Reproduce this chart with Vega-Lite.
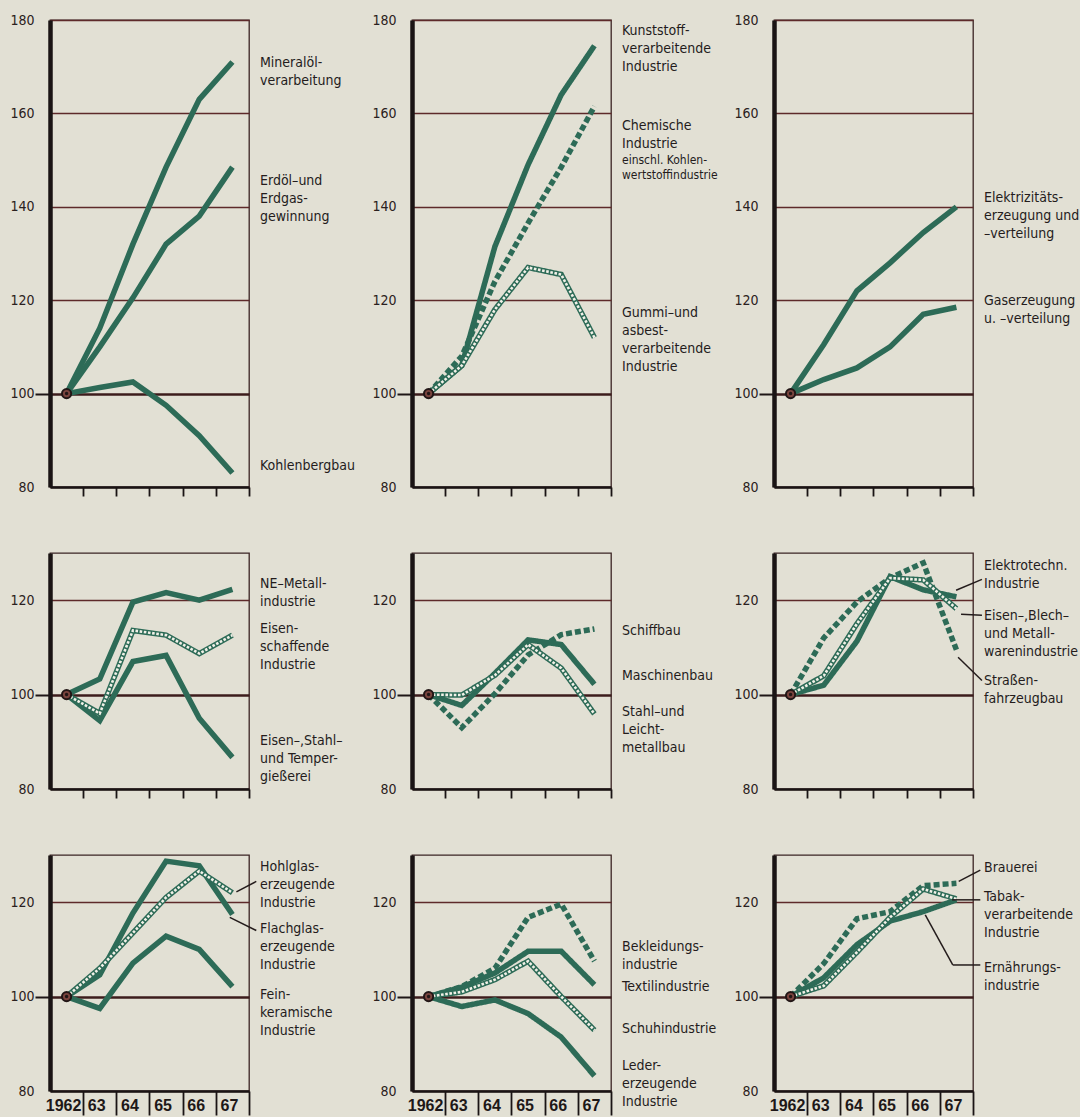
{
  "$schema": "https://vega.github.io/schema/vega-lite/v6.json",
  "background": "#e2e0d4",
  "padding": {"left": 9, "top": 12, "right": 0, "bottom": 0},
  "datasets": {
    "series": [
      {"panel":1,"series":"Mineralölverarbeitung","year":1962,"value":100},
      {"panel":1,"series":"Mineralölverarbeitung","year":1963,"value":114},
      {"panel":1,"series":"Mineralölverarbeitung","year":1964,"value":132},
      {"panel":1,"series":"Mineralölverarbeitung","year":1965,"value":148.5},
      {"panel":1,"series":"Mineralölverarbeitung","year":1966,"value":163},
      {"panel":1,"series":"Mineralölverarbeitung","year":1967,"value":171},
      {"panel":1,"series":"Erdöl- und Erdgasgewinnung","year":1962,"value":100},
      {"panel":1,"series":"Erdöl- und Erdgasgewinnung","year":1963,"value":110},
      {"panel":1,"series":"Erdöl- und Erdgasgewinnung","year":1964,"value":120.5},
      {"panel":1,"series":"Erdöl- und Erdgasgewinnung","year":1965,"value":132},
      {"panel":1,"series":"Erdöl- und Erdgasgewinnung","year":1966,"value":138},
      {"panel":1,"series":"Erdöl- und Erdgasgewinnung","year":1967,"value":148.5},
      {"panel":1,"series":"Kohlenbergbau","year":1962,"value":100},
      {"panel":1,"series":"Kohlenbergbau","year":1963,"value":101.3},
      {"panel":1,"series":"Kohlenbergbau","year":1964,"value":102.5},
      {"panel":1,"series":"Kohlenbergbau","year":1965,"value":97.5},
      {"panel":1,"series":"Kohlenbergbau","year":1966,"value":91},
      {"panel":1,"series":"Kohlenbergbau","year":1967,"value":83},
      {"panel":2,"series":"Kunststoffverarbeitende Industrie","year":1962,"value":100},
      {"panel":2,"series":"Kunststoffverarbeitende Industrie","year":1963,"value":106},
      {"panel":2,"series":"Kunststoffverarbeitende Industrie","year":1964,"value":131.5},
      {"panel":2,"series":"Kunststoffverarbeitende Industrie","year":1965,"value":149},
      {"panel":2,"series":"Kunststoffverarbeitende Industrie","year":1966,"value":164},
      {"panel":2,"series":"Kunststoffverarbeitende Industrie","year":1967,"value":174.5},
      {"panel":2,"series":"Chemische Industrie","year":1962,"value":100},
      {"panel":2,"series":"Chemische Industrie","year":1963,"value":108},
      {"panel":2,"series":"Chemische Industrie","year":1964,"value":124},
      {"panel":2,"series":"Chemische Industrie","year":1965,"value":136.5},
      {"panel":2,"series":"Chemische Industrie","year":1966,"value":148.5},
      {"panel":2,"series":"Chemische Industrie","year":1967,"value":161.5},
      {"panel":2,"series":"Gummi- und asbestverarbeitende Industrie","year":1962,"value":100},
      {"panel":2,"series":"Gummi- und asbestverarbeitende Industrie","year":1963,"value":106},
      {"panel":2,"series":"Gummi- und asbestverarbeitende Industrie","year":1964,"value":118},
      {"panel":2,"series":"Gummi- und asbestverarbeitende Industrie","year":1965,"value":127},
      {"panel":2,"series":"Gummi- und asbestverarbeitende Industrie","year":1966,"value":125.5},
      {"panel":2,"series":"Gummi- und asbestverarbeitende Industrie","year":1967,"value":112},
      {"panel":3,"series":"Elektrizitätserzeugung und -verteilung","year":1962,"value":100},
      {"panel":3,"series":"Elektrizitätserzeugung und -verteilung","year":1963,"value":110.5},
      {"panel":3,"series":"Elektrizitätserzeugung und -verteilung","year":1964,"value":122},
      {"panel":3,"series":"Elektrizitätserzeugung und -verteilung","year":1965,"value":128},
      {"panel":3,"series":"Elektrizitätserzeugung und -verteilung","year":1966,"value":134.5},
      {"panel":3,"series":"Elektrizitätserzeugung und -verteilung","year":1967,"value":140},
      {"panel":3,"series":"Gaserzeugung u. -verteilung","year":1962,"value":100},
      {"panel":3,"series":"Gaserzeugung u. -verteilung","year":1963,"value":103},
      {"panel":3,"series":"Gaserzeugung u. -verteilung","year":1964,"value":105.5},
      {"panel":3,"series":"Gaserzeugung u. -verteilung","year":1965,"value":110},
      {"panel":3,"series":"Gaserzeugung u. -verteilung","year":1966,"value":117},
      {"panel":3,"series":"Gaserzeugung u. -verteilung","year":1967,"value":118.5},
      {"panel":4,"series":"NE-Metallindustrie","year":1962,"value":100},
      {"panel":4,"series":"NE-Metallindustrie","year":1963,"value":103.3},
      {"panel":4,"series":"NE-Metallindustrie","year":1964,"value":119.6},
      {"panel":4,"series":"NE-Metallindustrie","year":1965,"value":121.6},
      {"panel":4,"series":"NE-Metallindustrie","year":1966,"value":120},
      {"panel":4,"series":"NE-Metallindustrie","year":1967,"value":122.3},
      {"panel":4,"series":"Eisenschaffende Industrie","year":1962,"value":100},
      {"panel":4,"series":"Eisenschaffende Industrie","year":1963,"value":96},
      {"panel":4,"series":"Eisenschaffende Industrie","year":1964,"value":113.6},
      {"panel":4,"series":"Eisenschaffende Industrie","year":1965,"value":112.6},
      {"panel":4,"series":"Eisenschaffende Industrie","year":1966,"value":108.7},
      {"panel":4,"series":"Eisenschaffende Industrie","year":1967,"value":112.6},
      {"panel":4,"series":"Eisen-, Stahl- und Tempergießerei","year":1962,"value":100},
      {"panel":4,"series":"Eisen-, Stahl- und Tempergießerei","year":1963,"value":94.5},
      {"panel":4,"series":"Eisen-, Stahl- und Tempergießerei","year":1964,"value":107},
      {"panel":4,"series":"Eisen-, Stahl- und Tempergießerei","year":1965,"value":108.3},
      {"panel":4,"series":"Eisen-, Stahl- und Tempergießerei","year":1966,"value":95},
      {"panel":4,"series":"Eisen-, Stahl- und Tempergießerei","year":1967,"value":86.7},
      {"panel":5,"series":"Schiffbau","year":1962,"value":100},
      {"panel":5,"series":"Schiffbau","year":1963,"value":93},
      {"panel":5,"series":"Schiffbau","year":1964,"value":100.2},
      {"panel":5,"series":"Schiffbau","year":1965,"value":108.4},
      {"panel":5,"series":"Schiffbau","year":1966,"value":112.7},
      {"panel":5,"series":"Schiffbau","year":1967,"value":113.9},
      {"panel":5,"series":"Maschinenbau","year":1962,"value":100},
      {"panel":5,"series":"Maschinenbau","year":1963,"value":97.7},
      {"panel":5,"series":"Maschinenbau","year":1964,"value":104.5},
      {"panel":5,"series":"Maschinenbau","year":1965,"value":111.6},
      {"panel":5,"series":"Maschinenbau","year":1966,"value":110.6},
      {"panel":5,"series":"Maschinenbau","year":1967,"value":102.2},
      {"panel":5,"series":"Stahl- und Leichtmetallbau","year":1962,"value":100},
      {"panel":5,"series":"Stahl- und Leichtmetallbau","year":1963,"value":99.9},
      {"panel":5,"series":"Stahl- und Leichtmetallbau","year":1964,"value":104.1},
      {"panel":5,"series":"Stahl- und Leichtmetallbau","year":1965,"value":110.6},
      {"panel":5,"series":"Stahl- und Leichtmetallbau","year":1966,"value":105.6},
      {"panel":5,"series":"Stahl- und Leichtmetallbau","year":1967,"value":95.9},
      {"panel":6,"series":"Elektrotechn. Industrie","year":1962,"value":100},
      {"panel":6,"series":"Elektrotechn. Industrie","year":1963,"value":102},
      {"panel":6,"series":"Elektrotechn. Industrie","year":1964,"value":111.3},
      {"panel":6,"series":"Elektrotechn. Industrie","year":1965,"value":125},
      {"panel":6,"series":"Elektrotechn. Industrie","year":1966,"value":122.2},
      {"panel":6,"series":"Elektrotechn. Industrie","year":1967,"value":120.7},
      {"panel":6,"series":"Eisen-, Blech- und Metallwarenindustrie","year":1962,"value":100},
      {"panel":6,"series":"Eisen-, Blech- und Metallwarenindustrie","year":1963,"value":104},
      {"panel":6,"series":"Eisen-, Blech- und Metallwarenindustrie","year":1964,"value":115},
      {"panel":6,"series":"Eisen-, Blech- und Metallwarenindustrie","year":1965,"value":124.7},
      {"panel":6,"series":"Eisen-, Blech- und Metallwarenindustrie","year":1966,"value":124.3},
      {"panel":6,"series":"Eisen-, Blech- und Metallwarenindustrie","year":1967,"value":118.2},
      {"panel":6,"series":"Straßenfahrzeugbau","year":1962,"value":100},
      {"panel":6,"series":"Straßenfahrzeugbau","year":1963,"value":112},
      {"panel":6,"series":"Straßenfahrzeugbau","year":1964,"value":119.6},
      {"panel":6,"series":"Straßenfahrzeugbau","year":1965,"value":124.7},
      {"panel":6,"series":"Straßenfahrzeugbau","year":1966,"value":127.9},
      {"panel":6,"series":"Straßenfahrzeugbau","year":1967,"value":109.5},
      {"panel":7,"series":"Hohlglaserzeugende Industrie","year":1962,"value":100},
      {"panel":7,"series":"Hohlglaserzeugende Industrie","year":1963,"value":106},
      {"panel":7,"series":"Hohlglaserzeugende Industrie","year":1964,"value":113.5},
      {"panel":7,"series":"Hohlglaserzeugende Industrie","year":1965,"value":121},
      {"panel":7,"series":"Hohlglaserzeugende Industrie","year":1966,"value":126.6},
      {"panel":7,"series":"Hohlglaserzeugende Industrie","year":1967,"value":122},
      {"panel":7,"series":"Flachglaserzeugende Industrie","year":1962,"value":100},
      {"panel":7,"series":"Flachglaserzeugende Industrie","year":1963,"value":104.6},
      {"panel":7,"series":"Flachglaserzeugende Industrie","year":1964,"value":117.7},
      {"panel":7,"series":"Flachglaserzeugende Industrie","year":1965,"value":128.7},
      {"panel":7,"series":"Flachglaserzeugende Industrie","year":1966,"value":127.7},
      {"panel":7,"series":"Flachglaserzeugende Industrie","year":1967,"value":117.4},
      {"panel":7,"series":"Feinkeramische Industrie","year":1962,"value":100},
      {"panel":7,"series":"Feinkeramische Industrie","year":1963,"value":97.5},
      {"panel":7,"series":"Feinkeramische Industrie","year":1964,"value":107.1},
      {"panel":7,"series":"Feinkeramische Industrie","year":1965,"value":112.8},
      {"panel":7,"series":"Feinkeramische Industrie","year":1966,"value":110},
      {"panel":7,"series":"Feinkeramische Industrie","year":1967,"value":102.1},
      {"panel":8,"series":"Bekleidungsindustrie","year":1962,"value":100},
      {"panel":8,"series":"Bekleidungsindustrie","year":1963,"value":102.1},
      {"panel":8,"series":"Bekleidungsindustrie","year":1964,"value":106},
      {"panel":8,"series":"Bekleidungsindustrie","year":1965,"value":116.8},
      {"panel":8,"series":"Bekleidungsindustrie","year":1966,"value":119.6},
      {"panel":8,"series":"Bekleidungsindustrie","year":1967,"value":107.5},
      {"panel":8,"series":"Textilindustrie","year":1962,"value":100},
      {"panel":8,"series":"Textilindustrie","year":1963,"value":102},
      {"panel":8,"series":"Textilindustrie","year":1964,"value":105},
      {"panel":8,"series":"Textilindustrie","year":1965,"value":109.6},
      {"panel":8,"series":"Textilindustrie","year":1966,"value":109.6},
      {"panel":8,"series":"Textilindustrie","year":1967,"value":102.5},
      {"panel":8,"series":"Schuhindustrie","year":1962,"value":100},
      {"panel":8,"series":"Schuhindustrie","year":1963,"value":101},
      {"panel":8,"series":"Schuhindustrie","year":1964,"value":103.6},
      {"panel":8,"series":"Schuhindustrie","year":1965,"value":107.5},
      {"panel":8,"series":"Schuhindustrie","year":1966,"value":100},
      {"panel":8,"series":"Schuhindustrie","year":1967,"value":92.9},
      {"panel":8,"series":"Ledererzeugende Industrie","year":1962,"value":100},
      {"panel":8,"series":"Ledererzeugende Industrie","year":1963,"value":97.9},
      {"panel":8,"series":"Ledererzeugende Industrie","year":1964,"value":99.3},
      {"panel":8,"series":"Ledererzeugende Industrie","year":1965,"value":96.4},
      {"panel":8,"series":"Ledererzeugende Industrie","year":1966,"value":91.4},
      {"panel":8,"series":"Ledererzeugende Industrie","year":1967,"value":83.2},
      {"panel":9,"series":"Brauerei","year":1962,"value":100},
      {"panel":9,"series":"Brauerei","year":1963,"value":107},
      {"panel":9,"series":"Brauerei","year":1964,"value":116.5},
      {"panel":9,"series":"Brauerei","year":1965,"value":118},
      {"panel":9,"series":"Brauerei","year":1966,"value":123.5},
      {"panel":9,"series":"Brauerei","year":1967,"value":124},
      {"panel":9,"series":"Tabakverarbeitende Industrie","year":1962,"value":100},
      {"panel":9,"series":"Tabakverarbeitende Industrie","year":1963,"value":102.3},
      {"panel":9,"series":"Tabakverarbeitende Industrie","year":1964,"value":109.4},
      {"panel":9,"series":"Tabakverarbeitende Industrie","year":1965,"value":116.8},
      {"panel":9,"series":"Tabakverarbeitende Industrie","year":1966,"value":122.8},
      {"panel":9,"series":"Tabakverarbeitende Industrie","year":1967,"value":120.7},
      {"panel":9,"series":"Ernährungsindustrie","year":1962,"value":100},
      {"panel":9,"series":"Ernährungsindustrie","year":1963,"value":104},
      {"panel":9,"series":"Ernährungsindustrie","year":1964,"value":111},
      {"panel":9,"series":"Ernährungsindustrie","year":1965,"value":116},
      {"panel":9,"series":"Ernährungsindustrie","year":1966,"value":118},
      {"panel":9,"series":"Ernährungsindustrie","year":1967,"value":120.5}
    ],
    "years": [
      {"year":1962,"label":"1962"},
      {"year":1963,"label":"63"},
      {"year":1964,"label":"64"},
      {"year":1965,"label":"65"},
      {"year":1966,"label":"66"},
      {"year":1967,"label":"67"}
    ],
    "labels": [
      {"panel":1,"text":"Mineralöl-\nverarbeitung","value":172.3},
      {"panel":1,"text":"Erdöl–und\nErdgas-\ngewinnung","value":147.0},
      {"panel":1,"text":"Kohlenbergbau","value":86.0},
      {"panel":2,"text":"Kunststoff-\nverarbeitende\nIndustrie","value":179.1},
      {"panel":2,"text":"Chemische\nIndustrie","value":158.8},
      {"panel":2,"text":"Gummi–und\nasbest-\nverarbeitende\nIndustrie","value":118.7},
      {"panel":3,"text":"Elektrizitäts-\nerzeugung und\n–verteilung","value":143.4},
      {"panel":3,"text":"Gaserzeugung\nu. –verteilung","value":121.3},
      {"panel":4,"text":"NE–Metall-\nindustrie","value":124.9},
      {"panel":4,"text":"Eisen-\nschaffende\nIndustrie","value":115.3},
      {"panel":4,"text":"Eisen–,Stahl–\nund Temper-\ngießerei","value":91.6},
      {"panel":5,"text":"Schiffbau","value":115.0},
      {"panel":5,"text":"Maschinenbau","value":105.5},
      {"panel":5,"text":"Stahl–und\nLeicht-\nmetallbau","value":97.9},
      {"panel":6,"text":"Elektrotechn.\nIndustrie","value":128.7},
      {"panel":6,"text":"Eisen–,Blech–\nund Metall-\nwarenindustrie","value":118.1},
      {"panel":6,"text":"Straßen-\nfahrzeugbau","value":104.3},
      {"panel":7,"text":"Hohlglas-\nerzeugende\nIndustrie","value":128.9},
      {"panel":7,"text":"Flachglas-\nerzeugende\nIndustrie","value":115.7},
      {"panel":7,"text":"Fein-\nkeramische\nIndustrie","value":101.8},
      {"panel":8,"text":"Bekleidungs-\nindustrie","value":112.0},
      {"panel":8,"text":"Textilindustrie","value":103.5},
      {"panel":8,"text":"Schuhindustrie","value":94.6},
      {"panel":8,"text":"Leder-\nerzeugende\nIndustrie","value":86.8},
      {"panel":9,"text":"Brauerei","value":128.8},
      {"panel":9,"text":"Tabak-\nverarbeitende\nIndustrie","value":122.5},
      {"panel":9,"text":"Ernährungs-\nindustrie","value":107.6}
    ],
    "notes": [
      {"panel":2,"text":"einschl. Kohlen-\nwertstoffindustrie","value":151.1}
    ],
    "leaders": [
      {"panel":6,"x":1966.99,"y":122.1,"x2":1967.77,"y2":124.4},
      {"panel":6,"x":1967.14,"y":117.0,"x2":1967.77,"y2":116.8},
      {"panel":6,"x":1967.05,"y":107.9,"x2":1967.77,"y2":103.0},
      {"panel":7,"x":1967.12,"y":122.2,"x2":1967.72,"y2":124.4},
      {"panel":7,"x":1966.92,"y":116.8,"x2":1967.72,"y2":114.0},
      {"panel":9,"x":1967.07,"y":124.4,"x2":1967.72,"y2":126.8},
      {"panel":9,"x":1966.87,"y":120.5,"x2":1967.72,"y2":120.5},
      {"panel":9,"x":1966.06,"y":117.3,"x2":1966.89,"y2":106.7},
      {"panel":9,"x":1966.89,"y":106.7,"x2":1967.72,"y2":106.7}
    ]
  },
  "columns": 3,
  "align": "each",
  "bounds": "flush",
  "spacing": {"row": 66, "column": 163},
  "concat": [
    {
      "width": 199, "height": 467,
      "layer": [
        {"data": {"name": "series"}, "transform": [{"filter": "datum.panel == 1"}],
         "mark": {"type": "line", "strokeWidth": 5.5, "color": "#2d6b57"},
         "encoding": {
           "x": {"field": "year", "type": "quantitative", "scale": {"domain": [1961.5, 1967.5], "nice": false, "zero": false},
                 "axis": {"title": null, "values": [1962,1963,1964,1965,1966,1967], "tickCount": 20, "tickOffset": 16.58, "labels": false, "grid": false, "tickSize": 9, "tickWidth": 1.8, "tickColor": "#1a1414", "domainColor": "#1a1414", "domainWidth": 2.5}},
           "y": {"field": "value", "type": "quantitative", "scale": {"domain": [80, 180], "nice": false, "zero": false},
                 "axis": {"title": null, "values": [80,100,120,140,160,180], "tickCount": 20, "grid": true,
                          "gridColor": {"condition": {"test": "datum.value == 100", "value": "#3c1c1c"}, "value": "#5e2a2a"},
                          "gridWidth": {"condition": {"test": "datum.value == 100", "value": 2.6}, "value": 1.4},
                          "tickColor": {"condition": {"test": "datum.value == 100", "value": "#1e1616"}, "value": "transparent"},
                          "tickSize": 15, "tickWidth": 2, "domainColor": "#1a1414", "domainWidth": 4.5,
                          "labelFont": "DejaVu Sans Condensed", "labelFontSize": 14, "labelColor": "#2a2020", "labelPadding": 1, "labelFlush": false, "labelOverlap": false}},
           "detail": {"field": "series", "type": "nominal"}
         }},
        {"data": {"values": [{}]}, "mark": {"type": "circle", "size": 85, "fill": "#7a443e", "stroke": "#221616", "strokeWidth": 2, "opacity": 1},
         "encoding": {"x": {"datum": 1962, "type": "quantitative"}, "y": {"datum": 100, "type": "quantitative"}}},
        {"data": {"values": [{}]}, "mark": {"type": "circle", "size": 12, "fill": "#221616", "opacity": 1},
         "encoding": {"x": {"datum": 1962, "type": "quantitative"}, "y": {"datum": 100, "type": "quantitative"}}},
        {"data": {"name": "labels"}, "transform": [{"filter": "datum.panel == 1"}],
         "mark": {"type": "text", "align": "left", "baseline": "top", "dx": 11, "font": "DejaVu Sans Condensed", "fontSize": 14, "lineHeight": 18, "lineBreak": "\n", "color": "#241c1c"},
         "encoding": {"x": {"datum": 1967.5, "type": "quantitative"}, "y": {"field": "value", "type": "quantitative"}, "text": {"field": "text"}}}
      ]
    },
    {
      "width": 199, "height": 467,
      "layer": [
        {"data": {"name": "series"}, "transform": [{"filter": "datum.panel == 2"}],
         "mark": {"type": "line", "strokeWidth": 5.5, "color": "#2d6b57"},
         "encoding": {
           "x": {"field": "year", "type": "quantitative", "scale": {"domain": [1961.5, 1967.5], "nice": false, "zero": false},
                 "axis": {"title": null, "values": [1962,1963,1964,1965,1966,1967], "tickCount": 20, "tickOffset": 16.58, "labels": false, "grid": false, "tickSize": 9, "tickWidth": 1.8, "tickColor": "#1a1414", "domainColor": "#1a1414", "domainWidth": 2.5}},
           "y": {"field": "value", "type": "quantitative", "scale": {"domain": [80, 180], "nice": false, "zero": false},
                 "axis": {"title": null, "values": [80,100,120,140,160,180], "tickCount": 20, "grid": true,
                          "gridColor": {"condition": {"test": "datum.value == 100", "value": "#3c1c1c"}, "value": "#5e2a2a"},
                          "gridWidth": {"condition": {"test": "datum.value == 100", "value": 2.6}, "value": 1.4},
                          "tickColor": {"condition": {"test": "datum.value == 100", "value": "#1e1616"}, "value": "transparent"},
                          "tickSize": 15, "tickWidth": 2, "domainColor": "#1a1414", "domainWidth": 4.5,
                          "labelFont": "DejaVu Sans Condensed", "labelFontSize": 14, "labelColor": "#2a2020", "labelPadding": 1, "labelFlush": false, "labelOverlap": false}},
           "detail": {"field": "series", "type": "nominal"},
           "strokeDash": {"condition": {"test": "indexof(['Chemische Industrie','Schiffbau','Straßenfahrzeugbau','Bekleidungsindustrie','Brauerei'], datum.series) >= 0", "value": [6, 3]}, "value": [1, 0]}
         }},
        {"data": {"name": "series"}, "transform": [{"filter": "datum.panel == 2"}, {"filter": {"field": "series", "oneOf": ["Gummi- und asbestverarbeitende Industrie"]}}],
         "mark": {"type": "line", "strokeWidth": 2.6, "color": "#f2f1e8", "strokeDash": [2.6, 1.6]},
         "encoding": {"x": {"field": "year", "type": "quantitative"}, "y": {"field": "value", "type": "quantitative"}, "detail": {"field": "series", "type": "nominal"}}},
        {"data": {"values": [{}]}, "mark": {"type": "circle", "size": 85, "fill": "#7a443e", "stroke": "#221616", "strokeWidth": 2, "opacity": 1},
         "encoding": {"x": {"datum": 1962, "type": "quantitative"}, "y": {"datum": 100, "type": "quantitative"}}},
        {"data": {"values": [{}]}, "mark": {"type": "circle", "size": 12, "fill": "#221616", "opacity": 1},
         "encoding": {"x": {"datum": 1962, "type": "quantitative"}, "y": {"datum": 100, "type": "quantitative"}}},
        {"data": {"name": "labels"}, "transform": [{"filter": "datum.panel == 2"}],
         "mark": {"type": "text", "align": "left", "baseline": "top", "dx": 11, "font": "DejaVu Sans Condensed", "fontSize": 14, "lineHeight": 18, "lineBreak": "\n", "color": "#241c1c"},
         "encoding": {"x": {"datum": 1967.5, "type": "quantitative"}, "y": {"field": "value", "type": "quantitative"}, "text": {"field": "text"}}},
        {"data": {"name": "notes"}, "transform": [{"filter": "datum.panel == 2"}],
         "mark": {"type": "text", "align": "left", "baseline": "top", "dx": 11, "font": "DejaVu Sans Condensed", "fontSize": 12, "lineHeight": 15, "lineBreak": "\n", "color": "#241c1c"},
         "encoding": {"x": {"datum": 1967.5, "type": "quantitative"}, "y": {"field": "value", "type": "quantitative"}, "text": {"field": "text"}}}
      ]
    },
    {
      "width": 199, "height": 467,
      "layer": [
        {"data": {"name": "series"}, "transform": [{"filter": "datum.panel == 3"}],
         "mark": {"type": "line", "strokeWidth": 5.5, "color": "#2d6b57"},
         "encoding": {
           "x": {"field": "year", "type": "quantitative", "scale": {"domain": [1961.5, 1967.5], "nice": false, "zero": false},
                 "axis": {"title": null, "values": [1962,1963,1964,1965,1966,1967], "tickCount": 20, "tickOffset": 16.58, "labels": false, "grid": false, "tickSize": 9, "tickWidth": 1.8, "tickColor": "#1a1414", "domainColor": "#1a1414", "domainWidth": 2.5}},
           "y": {"field": "value", "type": "quantitative", "scale": {"domain": [80, 180], "nice": false, "zero": false},
                 "axis": {"title": null, "values": [80,100,120,140,160,180], "tickCount": 20, "grid": true,
                          "gridColor": {"condition": {"test": "datum.value == 100", "value": "#3c1c1c"}, "value": "#5e2a2a"},
                          "gridWidth": {"condition": {"test": "datum.value == 100", "value": 2.6}, "value": 1.4},
                          "tickColor": {"condition": {"test": "datum.value == 100", "value": "#1e1616"}, "value": "transparent"},
                          "tickSize": 15, "tickWidth": 2, "domainColor": "#1a1414", "domainWidth": 4.5,
                          "labelFont": "DejaVu Sans Condensed", "labelFontSize": 14, "labelColor": "#2a2020", "labelPadding": 1, "labelFlush": false, "labelOverlap": false}},
           "detail": {"field": "series", "type": "nominal"}
         }},
        {"data": {"values": [{}]}, "mark": {"type": "circle", "size": 85, "fill": "#7a443e", "stroke": "#221616", "strokeWidth": 2, "opacity": 1},
         "encoding": {"x": {"datum": 1962, "type": "quantitative"}, "y": {"datum": 100, "type": "quantitative"}}},
        {"data": {"values": [{}]}, "mark": {"type": "circle", "size": 12, "fill": "#221616", "opacity": 1},
         "encoding": {"x": {"datum": 1962, "type": "quantitative"}, "y": {"datum": 100, "type": "quantitative"}}},
        {"data": {"name": "labels"}, "transform": [{"filter": "datum.panel == 3"}],
         "mark": {"type": "text", "align": "left", "baseline": "top", "dx": 11, "font": "DejaVu Sans Condensed", "fontSize": 14, "lineHeight": 18, "lineBreak": "\n", "color": "#241c1c"},
         "encoding": {"x": {"datum": 1967.5, "type": "quantitative"}, "y": {"field": "value", "type": "quantitative"}, "text": {"field": "text"}}}
      ]
    },
    {
      "width": 199, "height": 236,
      "layer": [
        {"data": {"name": "series"}, "transform": [{"filter": "datum.panel == 4"}],
         "mark": {"type": "line", "strokeWidth": 5.5, "color": "#2d6b57"},
         "encoding": {
           "x": {"field": "year", "type": "quantitative", "scale": {"domain": [1961.5, 1967.5], "nice": false, "zero": false},
                 "axis": {"title": null, "values": [1962,1963,1964,1965,1966,1967], "tickCount": 20, "tickOffset": 16.58, "labels": false, "grid": false, "tickSize": 9, "tickWidth": 1.8, "tickColor": "#1a1414", "domainColor": "#1a1414", "domainWidth": 2.5}},
           "y": {"field": "value", "type": "quantitative", "scale": {"domain": [80, 130], "nice": false, "zero": false},
                 "axis": {"title": null, "values": [80,100,120], "tickCount": 20, "grid": true,
                          "gridColor": {"condition": {"test": "datum.value == 100", "value": "#3c1c1c"}, "value": "#5e2a2a"},
                          "gridWidth": {"condition": {"test": "datum.value == 100", "value": 2.6}, "value": 1.4},
                          "tickColor": {"condition": {"test": "datum.value == 100", "value": "#1e1616"}, "value": "transparent"},
                          "tickSize": 15, "tickWidth": 2, "domainColor": "#1a1414", "domainWidth": 4.5,
                          "labelFont": "DejaVu Sans Condensed", "labelFontSize": 14, "labelColor": "#2a2020", "labelPadding": 1, "labelFlush": false, "labelOverlap": false}},
           "detail": {"field": "series", "type": "nominal"}
         }},
        {"data": {"name": "series"}, "transform": [{"filter": "datum.panel == 4"}, {"filter": {"field": "series", "oneOf": ["Eisenschaffende Industrie"]}}],
         "mark": {"type": "line", "strokeWidth": 2.6, "color": "#f2f1e8", "strokeDash": [2.6, 1.6]},
         "encoding": {"x": {"field": "year", "type": "quantitative"}, "y": {"field": "value", "type": "quantitative"}, "detail": {"field": "series", "type": "nominal"}}},
        {"data": {"values": [{}]}, "mark": {"type": "circle", "size": 85, "fill": "#7a443e", "stroke": "#221616", "strokeWidth": 2, "opacity": 1},
         "encoding": {"x": {"datum": 1962, "type": "quantitative"}, "y": {"datum": 100, "type": "quantitative"}}},
        {"data": {"values": [{}]}, "mark": {"type": "circle", "size": 12, "fill": "#221616", "opacity": 1},
         "encoding": {"x": {"datum": 1962, "type": "quantitative"}, "y": {"datum": 100, "type": "quantitative"}}},
        {"data": {"name": "labels"}, "transform": [{"filter": "datum.panel == 4"}],
         "mark": {"type": "text", "align": "left", "baseline": "top", "dx": 11, "font": "DejaVu Sans Condensed", "fontSize": 14, "lineHeight": 18, "lineBreak": "\n", "color": "#241c1c"},
         "encoding": {"x": {"datum": 1967.5, "type": "quantitative"}, "y": {"field": "value", "type": "quantitative"}, "text": {"field": "text"}}}
      ]
    },
    {
      "width": 199, "height": 236,
      "layer": [
        {"data": {"name": "series"}, "transform": [{"filter": "datum.panel == 5"}],
         "mark": {"type": "line", "strokeWidth": 5.5, "color": "#2d6b57"},
         "encoding": {
           "x": {"field": "year", "type": "quantitative", "scale": {"domain": [1961.5, 1967.5], "nice": false, "zero": false},
                 "axis": {"title": null, "values": [1962,1963,1964,1965,1966,1967], "tickCount": 20, "tickOffset": 16.58, "labels": false, "grid": false, "tickSize": 9, "tickWidth": 1.8, "tickColor": "#1a1414", "domainColor": "#1a1414", "domainWidth": 2.5}},
           "y": {"field": "value", "type": "quantitative", "scale": {"domain": [80, 130], "nice": false, "zero": false},
                 "axis": {"title": null, "values": [80,100,120], "tickCount": 20, "grid": true,
                          "gridColor": {"condition": {"test": "datum.value == 100", "value": "#3c1c1c"}, "value": "#5e2a2a"},
                          "gridWidth": {"condition": {"test": "datum.value == 100", "value": 2.6}, "value": 1.4},
                          "tickColor": {"condition": {"test": "datum.value == 100", "value": "#1e1616"}, "value": "transparent"},
                          "tickSize": 15, "tickWidth": 2, "domainColor": "#1a1414", "domainWidth": 4.5,
                          "labelFont": "DejaVu Sans Condensed", "labelFontSize": 14, "labelColor": "#2a2020", "labelPadding": 1, "labelFlush": false, "labelOverlap": false}},
           "detail": {"field": "series", "type": "nominal"},
           "strokeDash": {"condition": {"test": "indexof(['Chemische Industrie','Schiffbau','Straßenfahrzeugbau','Bekleidungsindustrie','Brauerei'], datum.series) >= 0", "value": [6, 3]}, "value": [1, 0]}
         }},
        {"data": {"name": "series"}, "transform": [{"filter": "datum.panel == 5"}, {"filter": {"field": "series", "oneOf": ["Stahl- und Leichtmetallbau"]}}],
         "mark": {"type": "line", "strokeWidth": 2.6, "color": "#f2f1e8", "strokeDash": [2.6, 1.6]},
         "encoding": {"x": {"field": "year", "type": "quantitative"}, "y": {"field": "value", "type": "quantitative"}, "detail": {"field": "series", "type": "nominal"}}},
        {"data": {"values": [{}]}, "mark": {"type": "circle", "size": 85, "fill": "#7a443e", "stroke": "#221616", "strokeWidth": 2, "opacity": 1},
         "encoding": {"x": {"datum": 1962, "type": "quantitative"}, "y": {"datum": 100, "type": "quantitative"}}},
        {"data": {"values": [{}]}, "mark": {"type": "circle", "size": 12, "fill": "#221616", "opacity": 1},
         "encoding": {"x": {"datum": 1962, "type": "quantitative"}, "y": {"datum": 100, "type": "quantitative"}}},
        {"data": {"name": "labels"}, "transform": [{"filter": "datum.panel == 5"}],
         "mark": {"type": "text", "align": "left", "baseline": "top", "dx": 11, "font": "DejaVu Sans Condensed", "fontSize": 14, "lineHeight": 18, "lineBreak": "\n", "color": "#241c1c"},
         "encoding": {"x": {"datum": 1967.5, "type": "quantitative"}, "y": {"field": "value", "type": "quantitative"}, "text": {"field": "text"}}}
      ]
    },
    {
      "width": 199, "height": 236,
      "layer": [
        {"data": {"name": "series"}, "transform": [{"filter": "datum.panel == 6"}],
         "mark": {"type": "line", "strokeWidth": 5.5, "color": "#2d6b57"},
         "encoding": {
           "x": {"field": "year", "type": "quantitative", "scale": {"domain": [1961.5, 1967.5], "nice": false, "zero": false},
                 "axis": {"title": null, "values": [1962,1963,1964,1965,1966,1967], "tickCount": 20, "tickOffset": 16.58, "labels": false, "grid": false, "tickSize": 9, "tickWidth": 1.8, "tickColor": "#1a1414", "domainColor": "#1a1414", "domainWidth": 2.5}},
           "y": {"field": "value", "type": "quantitative", "scale": {"domain": [80, 130], "nice": false, "zero": false},
                 "axis": {"title": null, "values": [80,100,120], "tickCount": 20, "grid": true,
                          "gridColor": {"condition": {"test": "datum.value == 100", "value": "#3c1c1c"}, "value": "#5e2a2a"},
                          "gridWidth": {"condition": {"test": "datum.value == 100", "value": 2.6}, "value": 1.4},
                          "tickColor": {"condition": {"test": "datum.value == 100", "value": "#1e1616"}, "value": "transparent"},
                          "tickSize": 15, "tickWidth": 2, "domainColor": "#1a1414", "domainWidth": 4.5,
                          "labelFont": "DejaVu Sans Condensed", "labelFontSize": 14, "labelColor": "#2a2020", "labelPadding": 1, "labelFlush": false, "labelOverlap": false}},
           "detail": {"field": "series", "type": "nominal"},
           "strokeDash": {"condition": {"test": "indexof(['Chemische Industrie','Schiffbau','Straßenfahrzeugbau','Bekleidungsindustrie','Brauerei'], datum.series) >= 0", "value": [6, 3]}, "value": [1, 0]}
         }},
        {"data": {"name": "series"}, "transform": [{"filter": "datum.panel == 6"}, {"filter": {"field": "series", "oneOf": ["Eisen-, Blech- und Metallwarenindustrie"]}}],
         "mark": {"type": "line", "strokeWidth": 2.6, "color": "#f2f1e8", "strokeDash": [2.6, 1.6]},
         "encoding": {"x": {"field": "year", "type": "quantitative"}, "y": {"field": "value", "type": "quantitative"}, "detail": {"field": "series", "type": "nominal"}}},
        {"data": {"values": [{}]}, "mark": {"type": "circle", "size": 85, "fill": "#7a443e", "stroke": "#221616", "strokeWidth": 2, "opacity": 1},
         "encoding": {"x": {"datum": 1962, "type": "quantitative"}, "y": {"datum": 100, "type": "quantitative"}}},
        {"data": {"values": [{}]}, "mark": {"type": "circle", "size": 12, "fill": "#221616", "opacity": 1},
         "encoding": {"x": {"datum": 1962, "type": "quantitative"}, "y": {"datum": 100, "type": "quantitative"}}},
        {"data": {"name": "leaders"}, "transform": [{"filter": "datum.panel == 6"}],
         "mark": {"type": "rule", "color": "#241c1c", "strokeWidth": 1.5},
         "encoding": {"x": {"field": "x", "type": "quantitative"}, "x2": {"field": "x2"}, "y": {"field": "y", "type": "quantitative"}, "y2": {"field": "y2"}}},
        {"data": {"name": "labels"}, "transform": [{"filter": "datum.panel == 6"}],
         "mark": {"type": "text", "align": "left", "baseline": "top", "dx": 11, "font": "DejaVu Sans Condensed", "fontSize": 14, "lineHeight": 18, "lineBreak": "\n", "color": "#241c1c"},
         "encoding": {"x": {"datum": 1967.5, "type": "quantitative"}, "y": {"field": "value", "type": "quantitative"}, "text": {"field": "text"}}}
      ]
    },
    {
      "width": 199, "height": 236,
      "layer": [
        {"data": {"name": "series"}, "transform": [{"filter": "datum.panel == 7"}],
         "mark": {"type": "line", "strokeWidth": 5.5, "color": "#2d6b57"},
         "encoding": {
           "x": {"field": "year", "type": "quantitative", "scale": {"domain": [1961.5, 1967.5], "nice": false, "zero": false},
                 "axis": {"title": null, "values": [1962,1963,1964,1965,1966,1967], "tickCount": 20, "tickOffset": 16.58, "labels": false, "grid": false, "tickSize": 24, "tickWidth": 1.8, "tickColor": "#1a1414", "domainColor": "#1a1414", "domainWidth": 2.5}},
           "y": {"field": "value", "type": "quantitative", "scale": {"domain": [80, 130], "nice": false, "zero": false},
                 "axis": {"title": null, "values": [80,100,120], "tickCount": 20, "grid": true,
                          "gridColor": {"condition": {"test": "datum.value == 100", "value": "#3c1c1c"}, "value": "#5e2a2a"},
                          "gridWidth": {"condition": {"test": "datum.value == 100", "value": 2.6}, "value": 1.4},
                          "tickColor": {"condition": {"test": "datum.value == 100", "value": "#1e1616"}, "value": "transparent"},
                          "tickSize": 15, "tickWidth": 2, "domainColor": "#1a1414", "domainWidth": 4.5,
                          "labelFont": "DejaVu Sans Condensed", "labelFontSize": 14, "labelColor": "#2a2020", "labelPadding": 1, "labelFlush": false, "labelOverlap": false}},
           "detail": {"field": "series", "type": "nominal"}
         }},
        {"data": {"name": "series"}, "transform": [{"filter": "datum.panel == 7"}, {"filter": {"field": "series", "oneOf": ["Hohlglaserzeugende Industrie"]}}],
         "mark": {"type": "line", "strokeWidth": 2.6, "color": "#f2f1e8", "strokeDash": [2.6, 1.6]},
         "encoding": {"x": {"field": "year", "type": "quantitative"}, "y": {"field": "value", "type": "quantitative"}, "detail": {"field": "series", "type": "nominal"}}},
        {"data": {"values": [{}]}, "mark": {"type": "circle", "size": 85, "fill": "#7a443e", "stroke": "#221616", "strokeWidth": 2, "opacity": 1},
         "encoding": {"x": {"datum": 1962, "type": "quantitative"}, "y": {"datum": 100, "type": "quantitative"}}},
        {"data": {"values": [{}]}, "mark": {"type": "circle", "size": 12, "fill": "#221616", "opacity": 1},
         "encoding": {"x": {"datum": 1962, "type": "quantitative"}, "y": {"datum": 100, "type": "quantitative"}}},
        {"data": {"name": "leaders"}, "transform": [{"filter": "datum.panel == 7"}],
         "mark": {"type": "rule", "color": "#241c1c", "strokeWidth": 1.5},
         "encoding": {"x": {"field": "x", "type": "quantitative"}, "x2": {"field": "x2"}, "y": {"field": "y", "type": "quantitative"}, "y2": {"field": "y2"}}},
        {"data": {"name": "years"},
         "mark": {"type": "text", "align": "center", "baseline": "top", "dx": -3, "dy": 7, "font": "Liberation Sans", "fontSize": 16, "fontWeight": "bold", "color": "#1e1818"},
         "encoding": {"x": {"field": "year", "type": "quantitative"}, "y": {"datum": 80, "type": "quantitative"}, "text": {"field": "label"}}},
        {"data": {"name": "labels"}, "transform": [{"filter": "datum.panel == 7"}],
         "mark": {"type": "text", "align": "left", "baseline": "top", "dx": 11, "font": "DejaVu Sans Condensed", "fontSize": 14, "lineHeight": 18, "lineBreak": "\n", "color": "#241c1c"},
         "encoding": {"x": {"datum": 1967.5, "type": "quantitative"}, "y": {"field": "value", "type": "quantitative"}, "text": {"field": "text"}}}
      ]
    },
    {
      "width": 199, "height": 236,
      "layer": [
        {"data": {"name": "series"}, "transform": [{"filter": "datum.panel == 8"}],
         "mark": {"type": "line", "strokeWidth": 5.5, "color": "#2d6b57"},
         "encoding": {
           "x": {"field": "year", "type": "quantitative", "scale": {"domain": [1961.5, 1967.5], "nice": false, "zero": false},
                 "axis": {"title": null, "values": [1962,1963,1964,1965,1966,1967], "tickCount": 20, "tickOffset": 16.58, "labels": false, "grid": false, "tickSize": 24, "tickWidth": 1.8, "tickColor": "#1a1414", "domainColor": "#1a1414", "domainWidth": 2.5}},
           "y": {"field": "value", "type": "quantitative", "scale": {"domain": [80, 130], "nice": false, "zero": false},
                 "axis": {"title": null, "values": [80,100,120], "tickCount": 20, "grid": true,
                          "gridColor": {"condition": {"test": "datum.value == 100", "value": "#3c1c1c"}, "value": "#5e2a2a"},
                          "gridWidth": {"condition": {"test": "datum.value == 100", "value": 2.6}, "value": 1.4},
                          "tickColor": {"condition": {"test": "datum.value == 100", "value": "#1e1616"}, "value": "transparent"},
                          "tickSize": 15, "tickWidth": 2, "domainColor": "#1a1414", "domainWidth": 4.5,
                          "labelFont": "DejaVu Sans Condensed", "labelFontSize": 14, "labelColor": "#2a2020", "labelPadding": 1, "labelFlush": false, "labelOverlap": false}},
           "detail": {"field": "series", "type": "nominal"},
           "strokeDash": {"condition": {"test": "indexof(['Chemische Industrie','Schiffbau','Straßenfahrzeugbau','Bekleidungsindustrie','Brauerei'], datum.series) >= 0", "value": [6, 3]}, "value": [1, 0]}
         }},
        {"data": {"name": "series"}, "transform": [{"filter": "datum.panel == 8"}, {"filter": {"field": "series", "oneOf": ["Schuhindustrie"]}}],
         "mark": {"type": "line", "strokeWidth": 2.6, "color": "#f2f1e8", "strokeDash": [2.6, 1.6]},
         "encoding": {"x": {"field": "year", "type": "quantitative"}, "y": {"field": "value", "type": "quantitative"}, "detail": {"field": "series", "type": "nominal"}}},
        {"data": {"values": [{}]}, "mark": {"type": "circle", "size": 85, "fill": "#7a443e", "stroke": "#221616", "strokeWidth": 2, "opacity": 1},
         "encoding": {"x": {"datum": 1962, "type": "quantitative"}, "y": {"datum": 100, "type": "quantitative"}}},
        {"data": {"values": [{}]}, "mark": {"type": "circle", "size": 12, "fill": "#221616", "opacity": 1},
         "encoding": {"x": {"datum": 1962, "type": "quantitative"}, "y": {"datum": 100, "type": "quantitative"}}},
        {"data": {"name": "years"},
         "mark": {"type": "text", "align": "center", "baseline": "top", "dx": -3, "dy": 7, "font": "Liberation Sans", "fontSize": 16, "fontWeight": "bold", "color": "#1e1818"},
         "encoding": {"x": {"field": "year", "type": "quantitative"}, "y": {"datum": 80, "type": "quantitative"}, "text": {"field": "label"}}},
        {"data": {"name": "labels"}, "transform": [{"filter": "datum.panel == 8"}],
         "mark": {"type": "text", "align": "left", "baseline": "top", "dx": 11, "font": "DejaVu Sans Condensed", "fontSize": 14, "lineHeight": 18, "lineBreak": "\n", "color": "#241c1c"},
         "encoding": {"x": {"datum": 1967.5, "type": "quantitative"}, "y": {"field": "value", "type": "quantitative"}, "text": {"field": "text"}}}
      ]
    },
    {
      "width": 199, "height": 236,
      "layer": [
        {"data": {"name": "series"}, "transform": [{"filter": "datum.panel == 9"}],
         "mark": {"type": "line", "strokeWidth": 5.5, "color": "#2d6b57"},
         "encoding": {
           "x": {"field": "year", "type": "quantitative", "scale": {"domain": [1961.5, 1967.5], "nice": false, "zero": false},
                 "axis": {"title": null, "values": [1962,1963,1964,1965,1966,1967], "tickCount": 20, "tickOffset": 16.58, "labels": false, "grid": false, "tickSize": 24, "tickWidth": 1.8, "tickColor": "#1a1414", "domainColor": "#1a1414", "domainWidth": 2.5}},
           "y": {"field": "value", "type": "quantitative", "scale": {"domain": [80, 130], "nice": false, "zero": false},
                 "axis": {"title": null, "values": [80,100,120], "tickCount": 20, "grid": true,
                          "gridColor": {"condition": {"test": "datum.value == 100", "value": "#3c1c1c"}, "value": "#5e2a2a"},
                          "gridWidth": {"condition": {"test": "datum.value == 100", "value": 2.6}, "value": 1.4},
                          "tickColor": {"condition": {"test": "datum.value == 100", "value": "#1e1616"}, "value": "transparent"},
                          "tickSize": 15, "tickWidth": 2, "domainColor": "#1a1414", "domainWidth": 4.5,
                          "labelFont": "DejaVu Sans Condensed", "labelFontSize": 14, "labelColor": "#2a2020", "labelPadding": 1, "labelFlush": false, "labelOverlap": false}},
           "detail": {"field": "series", "type": "nominal"},
           "strokeDash": {"condition": {"test": "indexof(['Chemische Industrie','Schiffbau','Straßenfahrzeugbau','Bekleidungsindustrie','Brauerei'], datum.series) >= 0", "value": [6, 3]}, "value": [1, 0]}
         }},
        {"data": {"name": "series"}, "transform": [{"filter": "datum.panel == 9"}, {"filter": {"field": "series", "oneOf": ["Tabakverarbeitende Industrie"]}}],
         "mark": {"type": "line", "strokeWidth": 2.6, "color": "#f2f1e8", "strokeDash": [2.6, 1.6]},
         "encoding": {"x": {"field": "year", "type": "quantitative"}, "y": {"field": "value", "type": "quantitative"}, "detail": {"field": "series", "type": "nominal"}}},
        {"data": {"values": [{}]}, "mark": {"type": "circle", "size": 85, "fill": "#7a443e", "stroke": "#221616", "strokeWidth": 2, "opacity": 1},
         "encoding": {"x": {"datum": 1962, "type": "quantitative"}, "y": {"datum": 100, "type": "quantitative"}}},
        {"data": {"values": [{}]}, "mark": {"type": "circle", "size": 12, "fill": "#221616", "opacity": 1},
         "encoding": {"x": {"datum": 1962, "type": "quantitative"}, "y": {"datum": 100, "type": "quantitative"}}},
        {"data": {"name": "leaders"}, "transform": [{"filter": "datum.panel == 9"}],
         "mark": {"type": "rule", "color": "#241c1c", "strokeWidth": 1.5},
         "encoding": {"x": {"field": "x", "type": "quantitative"}, "x2": {"field": "x2"}, "y": {"field": "y", "type": "quantitative"}, "y2": {"field": "y2"}}},
        {"data": {"name": "years"},
         "mark": {"type": "text", "align": "center", "baseline": "top", "dx": -3, "dy": 7, "font": "Liberation Sans", "fontSize": 16, "fontWeight": "bold", "color": "#1e1818"},
         "encoding": {"x": {"field": "year", "type": "quantitative"}, "y": {"datum": 80, "type": "quantitative"}, "text": {"field": "label"}}},
        {"data": {"name": "labels"}, "transform": [{"filter": "datum.panel == 9"}],
         "mark": {"type": "text", "align": "left", "baseline": "top", "dx": 11, "font": "DejaVu Sans Condensed", "fontSize": 14, "lineHeight": 18, "lineBreak": "\n", "color": "#241c1c"},
         "encoding": {"x": {"datum": 1967.5, "type": "quantitative"}, "y": {"field": "value", "type": "quantitative"}, "text": {"field": "text"}}}
      ]
    }
  ],
  "config": {
    "view": {"stroke": "#3b2424", "strokeWidth": 1.3},
    "line": {"strokeCap": "butt"}
  }
}
